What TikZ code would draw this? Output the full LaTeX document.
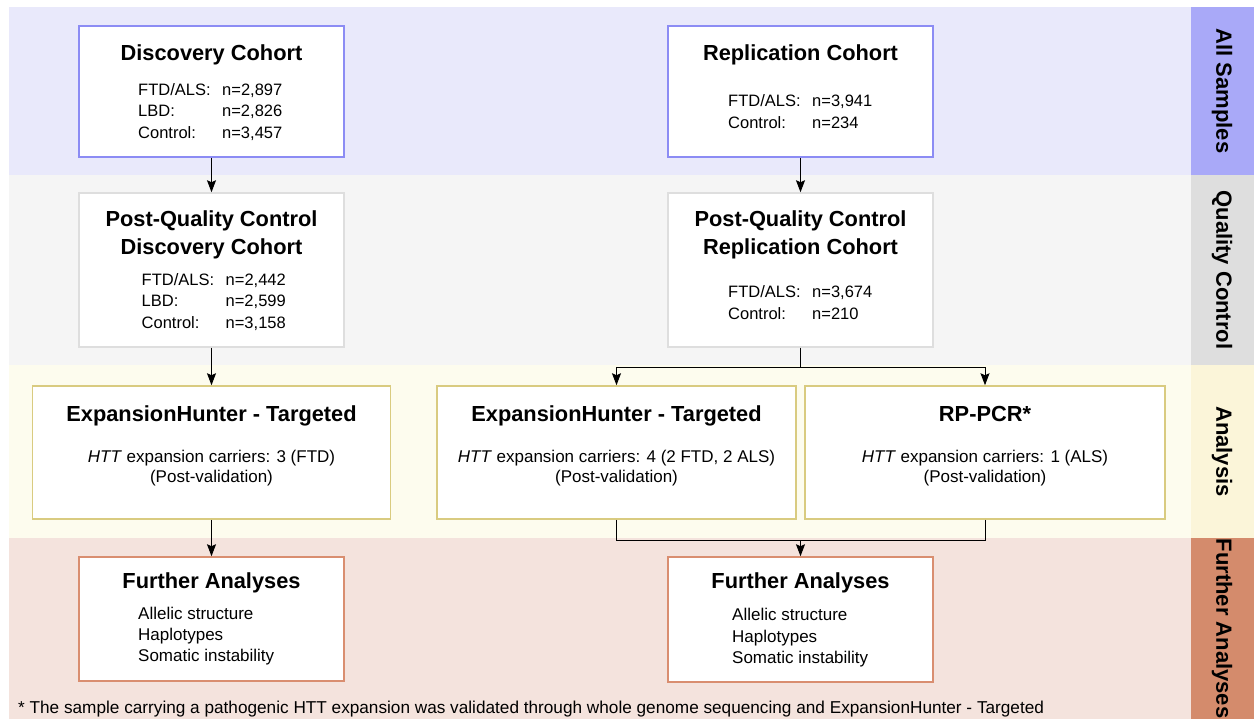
\documentclass[tikz,border=0pt]{standalone}
\usepackage{fontspec}
\setmainfont{Liberation Sans}
\usetikzlibrary{arrows.meta}
\definecolor{bandA}{HTML}{E9E9FB}
\definecolor{bandB}{HTML}{F5F5F5}
\definecolor{bandC}{HTML}{FDFCEE}
\definecolor{bandD}{HTML}{F4E3DD}
\definecolor{sideA}{HTML}{A9A9F8}
\definecolor{sideB}{HTML}{DEDEDE}
\definecolor{sideC}{HTML}{FBF5D9}
\definecolor{sideD}{HTML}{D48B6C}
\definecolor{lineA}{HTML}{8C8CF4}
\definecolor{lineB}{HTML}{DEDEDE}
\definecolor{lineC}{HTML}{D9CB80}
\definecolor{lineD}{HTML}{D98E70}
\newcommand\nrow[2]{\makebox[84pt][l]{#1}#2}

\begin{document}
\begin{tikzpicture}[x=1pt,y=-1pt,
	box/.style={draw,fill=white,line width=1.5pt,inner sep=0pt},
	head/.style={font=\fontsize{21.8}{27.6}\selectfont\bfseries,align=center,anchor=base,inner sep=0pt},
	list/.style={font=\fontsize{16.5}{21.3}\selectfont,align=left,anchor=base west,inner sep=0pt},
	mid/.style={font=\fontsize{17}{20}\selectfont,align=center,anchor=base,inner sep=0pt},
	side/.style={font=\fontsize{22}{24}\selectfont\bfseries,rotate=-90},
	link/.style={line width=1pt,-{Stealth[length=12pt,width=9pt,inset=2pt]}},
	wire/.style={line width=1pt}]
\useasboundingbox (0,0) rectangle (1254,719);
% bands and side labels
\foreach \ya/\yb/\cb/\cs/\lab/\nm in {7/175/bandA/sideA/All Samples/sa,175/365/bandB/sideB/Quality Control/sb,365/538/bandC/sideC/Analysis/sc,538/719/bandD/sideD/Further Analyses/sd}{
	\fill[\cb] (9,\ya) rectangle (1191,\yb);
	\fill[\cs] (1191,\ya) rectangle (1254,\yb);
	\node[side] (\nm) at (1222,{(\ya+\yb)/2}) {\lab};
}
% boxes
\node[box,draw=lineA,minimum width=265pt,minimum height=131pt] (dc) at (211.5,91.5) {};
\node[box,draw=lineA,minimum width=265pt,minimum height=131pt] (rc) at (800.5,91.5) {};
\node[box,draw=lineB,minimum width=265pt,minimum height=154pt] (qd) at (211.5,270) {};
\node[box,draw=lineB,minimum width=265pt,minimum height=154pt] (qr) at (800.5,270) {};
\node[box,draw=lineC,minimum width=358pt,minimum height=133pt] (ehl) at (211.5,452.5) {};
\node[box,draw=lineC,minimum width=359pt,minimum height=133pt] (ehm) at (616.5,452.5) {};
\node[box,draw=lineC,minimum width=360pt,minimum height=133pt] (rp) at (985,452.5) {};
\node[box,draw=lineD,minimum width=265pt,minimum height=124pt] (fl) at (211.5,619) {};
\node[box,draw=lineD,minimum width=265pt,minimum height=125pt] (fr) at (800.5,619.5) {};
% texts (base = last line)
\node[head] (dct) at (211.5,61) {Discovery Cohort};
\node[list] (dcl) at (138,138.3) {\nrow{FTD/ALS:}{n=2,897}\\\nrow{LBD:}{n=2,826}\\\nrow{Control:}{n=3,457}};
\node[head] (rct) at (800.5,60.5) {Replication Cohort};
\node[list] (rcl) at (728,128.3) {\nrow{FTD/ALS:}{n=3,941}\\\nrow{Control:}{n=234}};
\node[head] (qdt) at (211.5,254.3) {Post-Quality Control\\Discovery Cohort};
\node[list] (qdl) at (141.5,328.3) {\nrow{FTD/ALS:}{n=2,442}\\\nrow{LBD:}{n=2,599}\\\nrow{Control:}{n=3,158}};
\node[head] (qrt) at (800.5,254.3) {Post-Quality Control\\Replication Cohort};
\node[list] (qrl) at (728,319.3) {\nrow{FTD/ALS:}{n=3,674}\\\nrow{Control:}{n=210}};
\node[head] (ehlt) at (211.5,421.5) {ExpansionHunter - Targeted};
\node[mid] (ehll) at (211.5,482.5) {\textit{HTT} expansion carriers: 3 (FTD)\\(Post-validation)};
\node[head] (ehmt) at (616.5,421.5) {ExpansionHunter - Targeted};
\node[mid] (ehml) at (616.5,482.5) {\textit{HTT} expansion carriers: 4 (2 FTD, 2 ALS)\\(Post-validation)};
\node[head] (rpt) at (985,421.5) {RP-PCR*};
\node[mid] (rpl) at (985,482.5) {\textit{HTT} expansion carriers: 1 (ALS)\\(Post-validation)};
\node[head] (flt) at (211.5,588.3) {Further Analyses};
\node[list,font=\fontsize{17}{21.2}\selectfont] (fll) at (138,661.7) {Allelic structure\\Haplotypes\\Somatic instability};
\node[head] (frt) at (800.5,588.3) {Further Analyses};
\node[list,font=\fontsize{17}{21.2}\selectfont] (frl) at (732,663.3) {Allelic structure\\Haplotypes\\Somatic instability};
\node[list,font=\fontsize{17.2}{20}\selectfont] (note) at (18,713) {* The sample carrying a pathogenic HTT expansion was validated through whole genome sequencing and ExpansionHunter - Targeted};
% connectors
\coordinate (qsplit) at (800.5,368);
\coordinate (fjoin) at (800.5,540);
\draw[link] (dc) -- (qd);
\draw[link] (qd) -- (ehl);
\draw[link] (ehl) -- (fl);
\draw[link] (rc) -- (qr);
\draw[wire] (qr) -- (qsplit);
\draw[link] (qsplit) -| (ehm);
\draw[link] (qsplit) -| (rp);
\draw[wire] (ehm) |- (fjoin);
\draw[wire] (rp) |- (fjoin);
\draw[link] (fjoin) -- (fr);
\end{tikzpicture}
\end{document}
